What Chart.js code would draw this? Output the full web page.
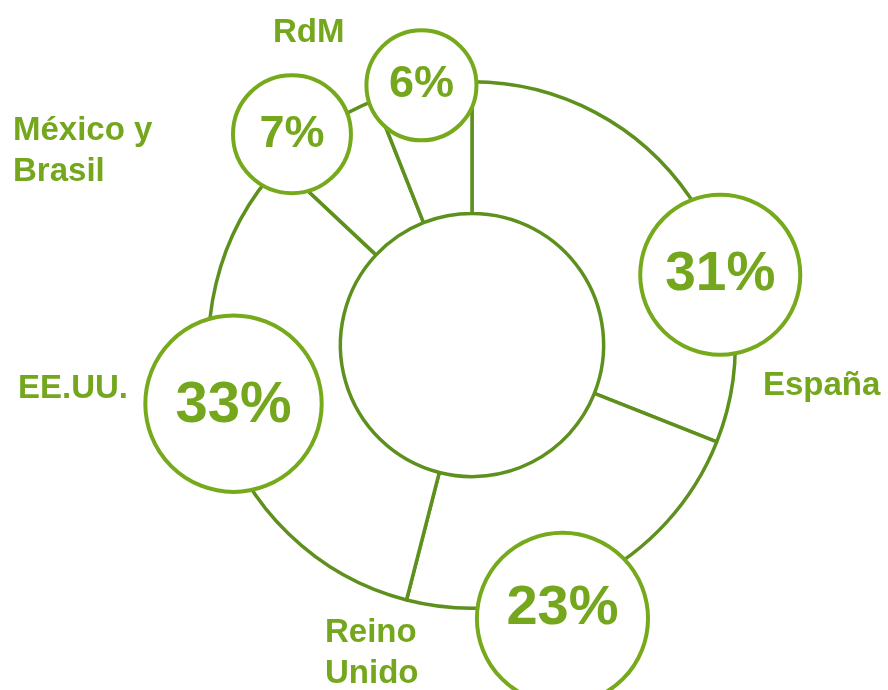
<!DOCTYPE html>
<html lang="es">
<head>
<meta charset="utf-8">
<title>Ventas por región</title>
<script src="https://cdn.jsdelivr.net/npm/chart.js@4.4.0/dist/chart.umd.min.js"></script>
<style>
  html, body { margin: 0; padding: 0; background: #ffffff; }
  #wrap { width: 888px; height: 690px; }
</style>
</head>
<body>
<div id="wrap"><canvas id="ventas-chart" width="888" height="690"></canvas></div>
<script>
// Datos del gráfico
const regiones = ['España', 'Reino Unido', 'EE.UU.', 'México y Brasil', 'RdM'];
const porcentajes = [31, 23, 33, 7, 6];
const etiquetas = [['España'], ['Reino', 'Unido'], ['EE.UU.'], ['México y', 'Brasil'], ['RdM']];

// Colores
const verdeAnillo = '#5e901e';
const verdeBurbuja = '#76aa1c';
const verdeTexto = '#74a71e';
const fuente = "'Liberation Sans', Arial, sans-serif";

// Posición de cada burbuja: fracción dentro del sector, distancia (x radio exterior), tamaño (x radio exterior)
const burbujaFraccion = [0.665, 0.605, 0.52, 0.25, 0.49];
const burbujaDistancia = [0.98, 1.094, 0.933, 1.053, 1.005];
const burbujaTamano = [0.304, 0.325, 0.335, 0.224, 0.209];
const burbujaFuente = [55, 56, 58, 45, 45];
const burbujaTextoDy = [0, -10, 2, 0, -1];

// Posición de las etiquetas (desplazamiento desde el centro, alineación izquierda, línea base)
const etiquetaDx = [291, -147, -454, -459, -199];
const etiquetaDy = [50, 297, 53, -205, -303];
const etiquetaInterlinea = 41;

/**
 * Dibuja las burbujas con porcentaje y los nombres de región
 */
const burbujasPlugin = {
  id: 'burbujas',
  afterDatasetsDraw(chart) {
    const ctx = chart.ctx;
    const meta = chart.getDatasetMeta(0);
    meta.data.forEach((arc, i) => {
      const p = arc.getProps(['x', 'y', 'startAngle', 'endAngle', 'outerRadius'], true);
      const ang = p.startAngle + burbujaFraccion[i] * (p.endAngle - p.startAngle);
      const cx = p.x + Math.cos(ang) * burbujaDistancia[i] * p.outerRadius;
      const cy = p.y + Math.sin(ang) * burbujaDistancia[i] * p.outerRadius;
      const r = burbujaTamano[i] * p.outerRadius;

      ctx.save();
      ctx.beginPath();
      ctx.arc(cx, cy, r, 0, Math.PI * 2);
      ctx.fillStyle = '#ffffff';
      ctx.fill();
      ctx.lineWidth = 4;
      ctx.strokeStyle = verdeBurbuja;
      ctx.stroke();

      ctx.fillStyle = verdeTexto;
      ctx.font = `bold ${burbujaFuente[i]}px ${fuente}`;
      ctx.textAlign = 'center';
      ctx.textBaseline = 'middle';
      ctx.fillText(porcentajes[i] + '%', cx, cy + burbujaTextoDy[i]);

      // nombre de la región
      ctx.font = `bold 33px ${fuente}`;
      ctx.textAlign = 'left';
      ctx.textBaseline = 'alphabetic';
      etiquetas[i].forEach((linea, j) => {
        ctx.fillText(linea, p.x + etiquetaDx[i], p.y + etiquetaDy[i] + j * etiquetaInterlinea);
      });
      ctx.restore();
    });
  }
};

let ventasChart = null;
function initVentasChart() {
  const ctx = document.getElementById('ventas-chart');
  if (!ctx || typeof Chart === 'undefined') return;
  ventasChart = new Chart(ctx, {
    type: 'doughnut',
    data: {
      labels: regiones,
      datasets: [{
        data: porcentajes,
        backgroundColor: '#ffffff',
        borderColor: verdeAnillo,
        borderWidth: 3.5,
        hoverOffset: 0
      }]
    },
    options: {
      responsive: false,
      animation: false,
      cutout: '50%',
      layout: { padding: { top: 80, bottom: 80, left: 207, right: 151 } },
      events: [],
      plugins: {
        legend: { display: false },
        tooltip: { enabled: false }
      }
    },
    plugins: [burbujasPlugin]
  });
}

document.addEventListener('DOMContentLoaded', initVentasChart);
</script>
</body>
</html>
